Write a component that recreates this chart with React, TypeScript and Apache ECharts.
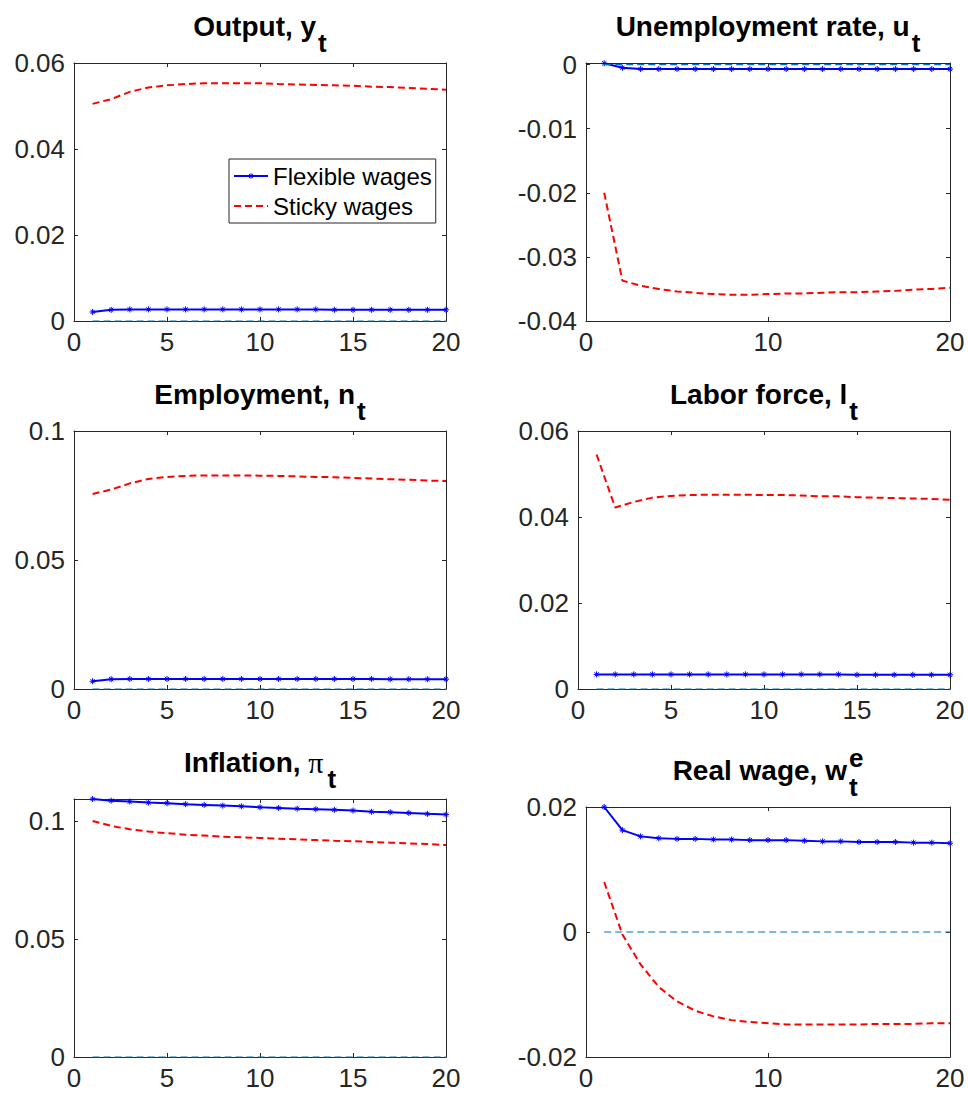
import React, { useEffect, useRef } from 'react';
import * as echarts from 'echarts';

const periods = [1, 2, 3, 4, 5, 6, 7, 8, 9, 10, 11, 12, 13, 14, 15, 16, 17, 18, 19, 20];

const outputFlex = [0.0021, 0.0026, 0.0027, 0.0027, 0.0027, 0.0027, 0.0027, 0.0027, 0.0027, 0.0027, 0.0027, 0.0027, 0.0027, 0.0026, 0.0026, 0.0026, 0.0026, 0.0026, 0.0026, 0.0026];
const outputSticky = [0.0505, 0.0516, 0.0533, 0.0543, 0.0548, 0.0551, 0.0553, 0.0553, 0.0553, 0.0553, 0.0551, 0.0550, 0.0549, 0.0548, 0.0547, 0.0545, 0.0544, 0.0542, 0.0540, 0.0538];

const unempFlex = [0.0002, -0.0005, -0.0007, -0.0007, -0.0007, -0.0007, -0.0007, -0.0007, -0.0007, -0.0007, -0.0007, -0.0007, -0.0007, -0.0007, -0.0007, -0.0007, -0.0007, -0.0007, -0.0007, -0.0007];
const unempSticky = [-0.0200, -0.0337, -0.0345, -0.0350, -0.0354, -0.0356, -0.0358, -0.0359, -0.0359, -0.0358, -0.0357, -0.0357, -0.0356, -0.0355, -0.0355, -0.0354, -0.0353, -0.0351, -0.0350, -0.0348];

const emplFlex = [0.0030, 0.0038, 0.0039, 0.0039, 0.0039, 0.0039, 0.0039, 0.0039, 0.0039, 0.0039, 0.0039, 0.0039, 0.0039, 0.0039, 0.0039, 0.0039, 0.0038, 0.0038, 0.0038, 0.0038];
const emplSticky = [0.0756, 0.0773, 0.0797, 0.0814, 0.0822, 0.0826, 0.0828, 0.0828, 0.0828, 0.0827, 0.0826, 0.0824, 0.0822, 0.0821, 0.0818, 0.0816, 0.0813, 0.0811, 0.0808, 0.0806];

const laborFlex = [0.0034, 0.0034, 0.0034, 0.0034, 0.0034, 0.0034, 0.0034, 0.0034, 0.0034, 0.0034, 0.0034, 0.0034, 0.0034, 0.0034, 0.0033, 0.0033, 0.0033, 0.0033, 0.0033, 0.0033];
const laborSticky = [0.0545, 0.0422, 0.0435, 0.0445, 0.0449, 0.0451, 0.0452, 0.0452, 0.0452, 0.0451, 0.0451, 0.0450, 0.0448, 0.0448, 0.0446, 0.0445, 0.0444, 0.0443, 0.0442, 0.0440];

const inflFlex = [0.1093, 0.1086, 0.1082, 0.1078, 0.1075, 0.1071, 0.1068, 0.1065, 0.1062, 0.1058, 0.1055, 0.1052, 0.1050, 0.1047, 0.1044, 0.1039, 0.1037, 0.1034, 0.1030, 0.1027];
const inflSticky = [0.1000, 0.0979, 0.0965, 0.0955, 0.0948, 0.0942, 0.0938, 0.0933, 0.0931, 0.0928, 0.0925, 0.0922, 0.0919, 0.0916, 0.0914, 0.0911, 0.0908, 0.0905, 0.0902, 0.0898];

const wageFlex = [0.0200, 0.0163, 0.0153, 0.0150, 0.0149, 0.0149, 0.0148, 0.0148, 0.0147, 0.0147, 0.0147, 0.0146, 0.0145, 0.0145, 0.0144, 0.0144, 0.0144, 0.0143, 0.0143, 0.0142];
const wageSticky = [0.0080, -0.0004, -0.0052, -0.0088, -0.0111, -0.0126, -0.0135, -0.0141, -0.0144, -0.0146, -0.0148, -0.0148, -0.0148, -0.0148, -0.0148, -0.0147, -0.0147, -0.0147, -0.0146, -0.0146];

const zeroLine = [0, 0, 0, 0, 0, 0, 0, 0, 0, 0, 0, 0, 0, 0, 0, 0, 0, 0, 0, 0];

const legendNames = ['Flexible wages', 'Sticky wages'];

type Panel = {
  main: string;
  greek?: string;
  sup?: string;
  sub: string;
  left: number;
  top: number;
  width: number;
  height: number;
  yMin: number;
  yMax: number;
  yInt: number;
  xInt: number;
  flex: number[];
  sticky: number[];
};

const panels: Panel[] = [
  { main: 'Output, y', sub: 't', left: 74, top: 63, width: 372, height: 258, yMin: 0, yMax: 0.06, yInt: 0.02, xInt: 5, flex: outputFlex, sticky: outputSticky },
  { main: 'Unemployment rate, u', sub: 't', left: 586, top: 63, width: 364, height: 258, yMin: -0.04, yMax: 0.00025, yInt: 0.01, xInt: 10, flex: unempFlex, sticky: unempSticky },
  { main: 'Employment, n', sub: 't', left: 74, top: 431, width: 372, height: 258, yMin: 0, yMax: 0.1, yInt: 0.05, xInt: 5, flex: emplFlex, sticky: emplSticky },
  { main: 'Labor force, l', sub: 't', left: 578, top: 431, width: 372, height: 258, yMin: 0, yMax: 0.06, yInt: 0.02, xInt: 5, flex: laborFlex, sticky: laborSticky },
  { main: 'Inflation, ', greek: 'π', sub: 't', left: 74, top: 799, width: 372, height: 258, yMin: 0, yMax: 0.1093, yInt: 0.05, xInt: 5, flex: inflFlex, sticky: inflSticky },
  { main: 'Real wage, w', sup: 'e', sub: 't', left: 586, top: 807, width: 364, height: 250, yMin: -0.02, yMax: 0.02, yInt: 0.02, xInt: 10, flex: wageFlex, sticky: wageSticky },
];

const FONT = '"Liberation Sans", Arial, Helvetica, sans-serif';
const AX = '#262626';
const ASTERISK = 'path://M0,5L10,5M5,0L5,10M1.5,1.5L8.5,8.5M8.5,1.5L1.5,8.5';

function measure(text: string, font: string): number {
  const ctx = document.createElement('canvas').getContext('2d');
  if (!ctx) return text.length * 14;
  ctx.font = font;
  return ctx.measureText(text).width;
}

export default function App() {
  const ref = useRef<HTMLDivElement>(null);

  useEffect(() => {
    if (!ref.current) return;
    const chart = echarts.init(ref.current, null, { renderer: 'svg' });

    const grids: any[] = [];
    const xAxes: any[] = [];
    const yAxes: any[] = [];
    const series: any[] = [];
    const graphics: any[] = [];

    const titleFs = 28;
    const subFs = 26;
    const boldFont = `bold ${titleFs}px ${FONT}`;
    const subFont = `bold ${subFs}px ${FONT}`;
    const greekFont = `30px "Liberation Serif", serif`;

    panels.forEach((p, i) => {
      grids.push({ left: p.left, top: p.top, width: p.width, height: p.height, containLabel: false });

      const axisLine = { show: true, onZero: false, lineStyle: { color: AX, width: 1 } };
      const axisTick = { show: true, inside: true, length: 4, lineStyle: { color: AX, width: 1 } };

      const xBase = {
        type: 'value', gridIndex: i, min: 0, max: 20, interval: p.xInt,
        axisLine, axisTick, splitLine: { show: false },
      };
      xAxes.push({
        ...xBase, position: 'bottom',
        axisLabel: { show: true, margin: 8, color: AX, fontSize: 26, fontFamily: FONT },
      });
      xAxes.push({ ...xBase, position: 'top', axisLabel: { show: false } });

      const fmt = (v: number) => {
        const k = v / p.yInt;
        if (Math.abs(k - Math.round(k)) > 1e-6) return '';
        return String(parseFloat(v.toFixed(4)));
      };
      const yBase = {
        type: 'value', gridIndex: i, min: p.yMin, max: p.yMax, interval: p.yInt,
        axisLine, axisTick, splitLine: { show: false },
      };
      yAxes.push({
        ...yBase, position: 'left',
        axisLabel: { show: true, margin: 9, color: AX, fontSize: 26, fontFamily: FONT, formatter: fmt },
      });
      yAxes.push({ ...yBase, position: 'right', axisLabel: { show: false } });

      series.push({
        type: 'line', name: legendNames[0], xAxisIndex: 2 * i, yAxisIndex: 2 * i,
        data: periods.map((t, k) => [t, p.flex[k]]),
        symbol: ASTERISK, symbolSize: 6, showSymbol: true, showAllSymbol: true,
        lineStyle: { color: '#0000FF', width: 2 },
        itemStyle: { color: '#0000FF', borderColor: '#0000FF', borderWidth: 1 },
        clip: false, z: 3,
      });
      series.push({
        type: 'line', name: legendNames[1], xAxisIndex: 2 * i, yAxisIndex: 2 * i,
        data: periods.map((t, k) => [t, p.sticky[k]]),
        symbol: 'none',
        lineStyle: { color: '#FF0000', width: 2, type: [7, 4] },
        itemStyle: { color: '#FF0000' },
        clip: false, z: 3,
      });
      series.push({
        type: 'line', name: 'zero', xAxisIndex: 2 * i, yAxisIndex: 2 * i,
        data: periods.map((t, k) => [t, zeroLine[k]]),
        symbol: 'none', silent: true,
        lineStyle: { color: '#0072BD', width: 1.2, type: [7, 4] },
        itemStyle: { color: '#0072BD' },
        clip: false, z: 4,
      });

      // title
      const cx = p.left + p.width / 2;
      const baseline = p.top - 27;
      const midY = baseline - 0.35 * titleFs;
      const wMain = measure(p.main, boldFont);
      const wGreek = p.greek ? measure(p.greek, greekFont) + 2 : 0;
      const wSub = measure(p.sub, subFont);
      const wSup = p.sup ? measure(p.sup, subFont) : 0;
      const gap = 2;
      const total = wMain + wGreek + gap + Math.max(wSub, wSup);
      let x = cx - total / 2;
      graphics.push({
        type: 'text', x, y: midY, silent: true,
        style: { text: p.main, font: boldFont, fill: '#000', textAlign: 'left', verticalAlign: 'middle' },
      });
      x += wMain;
      if (p.greek) {
        graphics.push({
          type: 'text', x, y: midY, silent: true,
          style: { text: p.greek, font: greekFont, fill: '#000', textAlign: 'left', verticalAlign: 'middle' },
        });
        x += wGreek;
      }
      x += gap;
      graphics.push({
        type: 'text', x, y: baseline + 16 - 0.35 * subFs, silent: true,
        style: { text: p.sub, font: subFont, fill: '#000', textAlign: 'left', verticalAlign: 'middle' },
      });
      if (p.sup) {
        graphics.push({
          type: 'text', x, y: baseline - 13 - 0.35 * subFs, silent: true,
          style: { text: p.sup, font: subFont, fill: '#000', textAlign: 'left', verticalAlign: 'middle' },
        });
      }
    });

    chart.setOption({
      animation: false,
      backgroundColor: '#ffffff',
      grid: grids,
      xAxis: xAxes,
      yAxis: yAxes,
      series,
      legend: {
        data: [
          { name: legendNames[0], itemStyle: { color: '#0000FF', borderColor: '#0000FF', borderWidth: 1 } },
          { name: legendNames[1], itemStyle: { opacity: 0 } },
        ],
        orient: 'vertical',
        left: 229,
        top: 159,
        padding: [4, 4, 4, 4],
        itemGap: 4,
        itemWidth: 34,
        itemHeight: 7,
        borderColor: AX,
        borderWidth: 1,
        backgroundColor: '#ffffff',
        selectedMode: false,
        textStyle: { fontSize: 24, fontFamily: FONT, color: '#000', lineHeight: 26 },
      },
      graphic: { elements: graphics },
    });

    return () => {
      chart.dispose();
    };
  }, []);

  return (
    <div
      ref={ref}
      style={{ position: 'absolute', left: 0, top: 0, width: 968, height: 1095 }}
    />
  );
}
